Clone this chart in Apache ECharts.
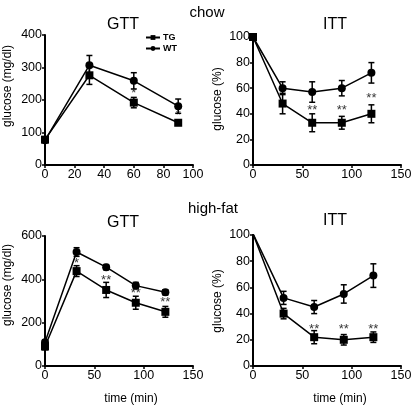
<!DOCTYPE html>
<html><head><meta charset="utf-8">
<script src="https://cdn.jsdelivr.net/npm/echarts@6/dist/echarts.min.js"></script>
<style>html,body{margin:0;padding:0;background:#fff}#c{width:416px;height:406px}</style>
</head><body><div id="c"></div>
<script>
// chow GTT
const chowGttTime = [0, 30, 60, 90];
const chowGttTG = [78, 276, 192, 130];
const chowGttTGErr = [6, 28, 16, 8];
const chowGttWT = [76, 307, 259, 181];
const chowGttWTErr = [6, 30, 25, 22];
const chowGttStars = [[60, 221, '*'], [90, 154, '*']];
// chow ITT
const chowIttTime = [0, 30, 60, 90, 120];
const chowIttTG = [100, 48, 33, 33, 40];
const chowIttTGErr = [0, 8, 7, 5, 7];
const chowIttWT = [100, 60, 57, 60, 72];
const chowIttWTErr = [0, 5, 8, 6, 8];
const chowIttStars = [[60, 43, '**'], [90, 43, '**'], [120, 52, '**']];
// high-fat GTT
const hfGttTime = [0, 32, 62, 92, 122];
const hfGttTG = [90, 438, 351, 292, 250];
const hfGttTGErr = [15, 25, 35, 30, 25];
const hfGttWT = [110, 526, 456, 371, 340];
const hfGttWTErr = [10, 20, 12, 15, 12];
const hfGttStars = [[32, 475, '*'], [62, 397, '**'], [92, 337, '**'], [122, 295, '**']];
// high-fat ITT
const hfIttTime = [0, 31, 62, 92, 122];
const hfIttTG = [101, 40, 22, 20, 22];
const hfIttTGErr = [0, 4, 5, 4, 4];
const hfIttWT = [101, 52, 45, 55, 69];
const hfIttWTErr = [0, 5, 5, 7, 9];
const hfIttStars = [[62, 28, '**'], [92, 28, '**'], [122, 28, '**']];

const font = 'Liberation Sans, Arial, sans-serif';
const chart = echarts.init(document.getElementById('c'));

const grids = [
  {left: 45, top: 35, width: 148, height: 130},
  {left: 253, top: 37, width: 148, height: 128},
  {left: 45, top: 236, width: 148, height: 130},
  {left: 253, top: 235, width: 148, height: 131}
];
const axisLine = {lineStyle: {color: '#000', width: 2}};
const axisTick = {show: true, length: 3, lineStyle: {color: '#000', width: 1.5}};
const axisLabel = {color: '#000', fontSize: 12.5, fontFamily: font, margin: 3};
function xAx(i, max, interval) {
  return {type: 'value', gridIndex: i, min: 0, max: max, interval: interval,
    axisLine: axisLine, axisTick: axisTick, axisLabel: axisLabel, splitLine: {show: false}};
}
function yAx(i, max, interval) {
  return {type: 'value', gridIndex: i, min: 0, max: max, interval: interval,
    axisLine: {show: true, lineStyle: {color: '#000', width: 2}}, axisTick: axisTick,
    axisLabel: axisLabel, splitLine: {show: false}};
}
const series = [];
function addPanel(i, t, tg, tgE, wt, wtE, stars) {
  const z = (arr) => t.map((x, k) => [x, arr[k]]);
  series.push({type: 'line', name: i === 0 ? 'TG' : 'TG' + i, xAxisIndex: i, yAxisIndex: i, data: z(tg),
    symbol: 'rect', symbolSize: 8, lineStyle: {color: '#000', width: 1.5}, itemStyle: {color: '#000'}, z: 3});
  series.push({type: 'line', name: i === 0 ? 'WT' : 'WT' + i, xAxisIndex: i, yAxisIndex: i, data: z(wt),
    symbol: 'circle', symbolSize: 8, lineStyle: {color: '#000', width: 1.5}, itemStyle: {color: '#000'}, z: 3});
  const errData = [];
  t.forEach((x, k) => {
    if (tgE[k] > 0) errData.push([x, tg[k] - tgE[k], tg[k] + tgE[k]]);
    if (wtE[k] > 0) errData.push([x, wt[k] - wtE[k], wt[k] + wtE[k]]);
  });
  series.push({type: 'custom', xAxisIndex: i, yAxisIndex: i, data: errData, z: 2,
    renderItem: function (params, api) {
      const lo = api.coord([api.value(0), api.value(1)]);
      const hi = api.coord([api.value(0), api.value(2)]);
      const w = 3;
      const st = {stroke: '#000', lineWidth: 1.5};
      return {type: 'group', children: [
        {type: 'line', shape: {x1: lo[0], y1: lo[1], x2: hi[0], y2: hi[1]}, style: st},
        {type: 'line', shape: {x1: lo[0] - w, y1: lo[1], x2: lo[0] + w, y2: lo[1]}, style: st},
        {type: 'line', shape: {x1: hi[0] - w, y1: hi[1], x2: hi[0] + w, y2: hi[1]}, style: st}
      ]};
    }});
  series.push({type: 'scatter', xAxisIndex: i, yAxisIndex: i, symbolSize: 1, z: 10,
    itemStyle: {color: 'rgba(0,0,0,0)'},
    data: stars.map(s => ({value: [s[0], s[1]], label: {formatter: s[2]}})),
    label: {show: true, position: 'inside', color: '#000', fontSize: 13, fontFamily: font}});
}
addPanel(0, chowGttTime, chowGttTG, chowGttTGErr, chowGttWT, chowGttWTErr, chowGttStars);
addPanel(1, chowIttTime, chowIttTG, chowIttTGErr, chowIttWT, chowIttWTErr, chowIttStars);
addPanel(2, hfGttTime, hfGttTG, hfGttTGErr, hfGttWT, hfGttWTErr, hfGttStars);
addPanel(3, hfIttTime, hfIttTG, hfIttTGErr, hfIttWT, hfIttWTErr, hfIttStars);

const tStyle = {color: '#000', fontSize: 16, fontWeight: 'normal', fontFamily: font};
const hStyle = {color: '#000', fontSize: 15, fontWeight: 'normal', fontFamily: font};
const nStyle = {color: '#000', fontSize: 12, fontWeight: 'normal', fontFamily: font};
function yName(text, x, y) {
  return {type: 'text', x: x, y: y, rotation: Math.PI / 2,
    style: {text: text, fill: '#000', font: '12px ' + font, textAlign: 'center', textVerticalAlign: 'middle'}};
}
chart.setOption({
  animation: false,
  title: [
    {text: 'chow', left: 202, top: 0, textAlign: 'center', textStyle: hStyle},
    {text: 'GTT', left: 118, top: 12, textAlign: 'center', textStyle: tStyle},
    {text: 'ITT', left: 330, top: 12, textAlign: 'center', textStyle: tStyle},
    {text: 'high-fat', left: 208, top: 196, textAlign: 'center', textStyle: hStyle},
    {text: 'GTT', left: 118, top: 210, textAlign: 'center', textStyle: tStyle},
    {text: 'ITT', left: 330, top: 208, textAlign: 'center', textStyle: tStyle},
    {text: 'time (min)', left: 126, top: 388, textAlign: 'center', textStyle: nStyle},
    {text: 'time (min)', left: 335, top: 388, textAlign: 'center', textStyle: nStyle}
  ],
  graphic: [
    yName('glucose (mg/dl)', 8, 86),
    yName('glucose (%)', 218, 99),
    yName('glucose (mg/dl)', 8, 285),
    yName('glucose (%)', 218, 301)
  ],
  legend: {data: ['TG', 'WT'], left: 140, top: 28, orient: 'vertical', itemGap: 2,
    itemWidth: 14, itemHeight: 6,
    textStyle: {color: '#000', fontSize: 9, fontWeight: 'bold', fontFamily: font, padding: [0, 0, 0, -2]}},
  grid: grids,
  xAxis: [xAx(0, 100, 20), xAx(1, 150, 50), xAx(2, 150, 50), xAx(3, 150, 50)],
  yAxis: [yAx(0, 400, 100), yAx(1, 100, 20), yAx(2, 600, 200), yAx(3, 100, 20)],
  series: series
});
</script></body></html>
